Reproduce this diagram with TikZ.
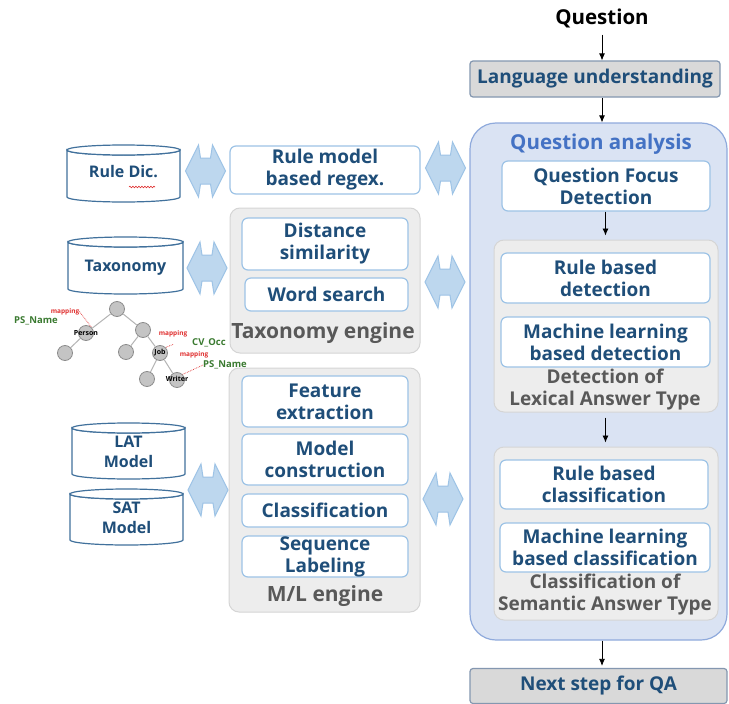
\documentclass[tikz,border=0pt]{standalone}
\usepackage{fontspec}
\setmainfont{Open Sans}
\usetikzlibrary{arrows.meta,decorations.pathmorphing}
\definecolor{dkblue}{HTML}{1F4E79}
\definecolor{ltborder}{HTML}{9DC3E6}
\definecolor{grpfill}{HTML}{EDEDED}
\definecolor{grpdraw}{HTML}{D5D5D5}
\definecolor{grptext}{HTML}{595959}
\definecolor{qafill}{HTML}{DAE3F3}
\definecolor{qadraw}{HTML}{8FAADC}
\definecolor{qatitle}{HTML}{4472C4}
\definecolor{arrfill}{HTML}{BDD7EE}
\definecolor{arrdraw}{HTML}{9DC3E6}
\definecolor{cyldraw}{HTML}{41719C}
\definecolor{stepfill}{HTML}{D9D9D9}
\definecolor{stepdraw}{HTML}{8497B0}
\definecolor{treefill}{HTML}{C4C4C4}
\definecolor{treedraw}{HTML}{8C8C8C}
\definecolor{treeedge}{HTML}{B4B4B4}
\definecolor{mapred}{HTML}{E03030}
\definecolor{mapgreen}{HTML}{3A7A30}
\newcommand\mycylinder[4]{%
  \path[cyl] (#1,#3+5) -- (#1,#4-5) arc[start angle=180,end angle=0,x radius={(#2-#1)/2},y radius=5] -- (#2,#3+5) arc[start angle=0,end angle=180,x radius={(#2-#1)/2},y radius=5] -- cycle;
  \draw[cyl] ({(#1+#2)/2},#3+5) ellipse[x radius={(#2-#1)/2},y radius=5];
}
\newcommand\dblarrow[2]{%
  \draw[dblarrowst] (#1-20,#2) -- (#1-7,#2-26) -- (#1-5,#2-13) -- (#1+5,#2-13) -- (#1+7,#2-26) -- (#1+20,#2) -- (#1+7,#2+26) -- (#1+5,#2+13) -- (#1-5,#2+13) -- (#1-7,#2+26) -- cycle;
}
\begin{document}
\begin{tikzpicture}[x=1pt,y=-1pt,
 big/.style={font=\fontsize{19}{22}\selectfont\bfseries, align=center},
 wbox/.style={big, draw=ltborder, line width=1.2pt, fill=white, rounded corners=6, text=dkblue, inner sep=0pt},
 grp/.style={draw=grpdraw, fill=grpfill, line width=1pt, rounded corners=10, inner sep=0pt},
 grplabel/.style={big, text=grptext, inner sep=0pt},
 englabel/.style={font=\fontsize{21}{24}\selectfont\bfseries, text=grptext, inner sep=0pt},
 stepbox/.style={big, draw=stepdraw, fill=stepfill, line width=1.2pt, rounded corners=3, text=dkblue, inner sep=0pt},
 flow/.style={-{Latex[length=7pt,width=6pt]}, line width=0.8pt, black},
 cyl/.style={draw=cyldraw, line width=1.2pt, fill=white},
 cyltext/.style={font=\fontsize{16}{19.5}\selectfont\bfseries, text=dkblue, align=center, inner sep=0pt},
 dblarrowst/.style={fill=arrfill, draw=arrdraw, line width=1pt},
 tnode/.style={circle, fill=treefill, draw=treedraw, line width=0.8pt, minimum size=15pt, inner sep=0pt},
 tlabel/.style={font=\fontsize{7}{8}\selectfont\bfseries, text=black, inner sep=0pt},
 maplabel/.style={font=\fontsize{6.5}{7}\selectfont\bfseries, text=mapred, inner sep=0pt},
 namelabel/.style={font=\fontsize{9.5}{10}\selectfont\bfseries, text=mapgreen, inner sep=0pt},
 mapline/.style={mapred, densely dotted, line width=0.7pt},
]
\useasboundingbox (0,0) rectangle (729,704);
\fill[white] (0,0) rectangle (729,704);

% ---------- right column ----------
\node[font=\fontsize{20.5}{22}\selectfont\bfseries, inner sep=0pt] (q) at (602,18) {Question};
\node[stepbox, minimum width=250pt, minimum height=36pt] (lu) at (595,79) {Language understanding};
\node[draw=qadraw, fill=qafill, line width=1.2pt, rounded corners=26, minimum width=257pt, minimum height=517pt, inner sep=0pt] (qa) at (598.5,381.5) {};
\node[font=\fontsize{20.5}{22}\selectfont\bfseries, text=qatitle, inner sep=0pt] (qat) at (601,144) {Question analysis};
\node[wbox, minimum width=208pt, minimum height=50pt] (qfd) at (606,186) {Question Focus\\Detection};

\node[grp, minimum width=224pt, minimum height=172pt] (g1) at (606,326) {};
\node[wbox, minimum width=209pt, minimum height=50pt] (rbd) at (605.5,278) {Rule based\\detection};
\node[wbox, minimum width=209pt, minimum height=50pt] (mlbd) at (605.5,342) {Machine learning\\based detection};
\node[grplabel] (g1l) at (605,390) {Detection of\\Lexical Answer Type};

\node[grp, minimum width=224pt, minimum height=173pt] (g2) at (606,533.5) {};
\node[wbox, minimum width=208pt, minimum height=49pt] (rbc) at (604,484.5) {Rule based\\classification};
\node[wbox, minimum width=210pt, minimum height=49pt] (mlbc) at (605,547.5) {Machine learning\\based classification};
\node[grplabel] (g2l) at (605,595) {Classification of\\Semantic Answer Type};

\node[stepbox, minimum width=257pt, minimum height=35pt] (ns) at (598.5,686) {Next step for QA};

\draw[flow, shorten <=7pt] (q) -- (q |- lu.north);
\draw[flow] (lu.south -| q) -- (q |- qa.north);
\draw[flow, shorten >=4pt] (qfd.south -| rbd) -- (rbd |- g1.north);
\draw[flow, shorten <=5pt, shorten >=4pt] (g1.south -| rbd) -- (rbd |- g2.north);
\draw[flow, shorten >=2pt] (qa.south -| q) -- (q |- ns.north);

% ---------- middle column ----------
\node[wbox, minimum width=190pt, minimum height=48pt] (rmr) at (325,170) {Rule model\\based regex.};

\node[grp, minimum width=190pt, minimum height=145pt] (te) at (325,280.5) {};
\node[wbox, minimum width=166pt, minimum height=52pt] (ds) at (325,244) {Distance\\similarity};
\node[wbox, minimum width=163pt, minimum height=33pt] (ws) at (326.5,294.5) {Word search};
\node[englabel] (tel) at (323,333) {Taxonomy engine};

\node[grp, minimum width=191pt, minimum height=244pt] (ml) at (324.5,490) {};
\node[wbox, minimum width=166pt, minimum height=51pt] (fe) at (325,401.5) {Feature\\extraction};
\node[wbox, minimum width=166pt, minimum height=51pt] (mc) at (325,459.5) {Model\\construction};
\node[wbox, minimum width=166pt, minimum height=33pt] (cl) at (325,510.5) {Classification};
\node[wbox, minimum width=166pt, minimum height=41pt] (sl) at (325,556.5) {Sequence\\Labeling};
\node[englabel] (mll) at (325,596) {M/L engine};

% ---------- double arrows ----------
\dblarrow{205.5}{171}
\dblarrow{207}{268}
\dblarrow{208}{490}
\dblarrow{445.5}{168}
\dblarrow{445}{282}
\dblarrow{443}{499}

% ---------- data stores ----------
\mycylinder{67}{180}{145}{202}
\node[cyltext] (rd) at (123.5,172) {Rule Dic.};
\draw[mapred, line width=0.6pt, decorate, decoration={snake, amplitude=0.8pt, segment length=3pt}] (129,187) -- (155,187);
\mycylinder{68}{183}{237}{294}
\node[cyltext] (tx) at (125.5,268) {Taxonomy};
\mycylinder{72}{185}{423}{479}
\node[cyltext] (lat) at (128.5,452) {LAT\\Model};
\mycylinder{70}{183}{489}{545}
\node[cyltext] (sat) at (126.5,518) {SAT\\Model};

% ---------- taxonomy tree ----------
\begin{scope}
\clip (0,290) rectangle (229.5,400);
\node[namelabel, anchor=west] (cv) at (192,343) {CV\_Occ};
\end{scope}
\node[tnode] (t0) at (117,309) {};
\node[tnode] (t1) at (86,333) {};
\node[tnode] (t2) at (143,330) {};
\node[tnode] (t3) at (65,353) {};
\node[tnode] (t4) at (126,352) {};
\node[tnode] (t5) at (160,353) {};
\node[tnode] (t6) at (147,379) {};
\node[tnode] (t7) at (177,380) {};
\draw[treeedge, line width=1pt] (t0) -- (t1);
\draw[treeedge, line width=1pt] (t0) -- (t2);
\draw[treeedge, line width=1pt] (t1) -- (t3);
\draw[treeedge, line width=1pt] (t2) -- (t4);
\draw[treeedge, line width=1pt] (t2) -- (t5);
\draw[treeedge, line width=1pt] (t5) -- (t6);
\draw[treeedge, line width=1pt] (t5) -- (t7);
\node[tlabel] at (t1) {Person};
\node[tlabel] at (t5) {Job};
\node[tlabel] at ([yshift=1.5]t7.center) {Writer};
\node[maplabel] (m1) at (65,311.5) {mapping};
\node[namelabel] (p1) at (36,320.5) {PS\_Name};
\node[maplabel] (m2) at (173,334) {mapping};
\node[maplabel] (m3) at (194,355) {mapping};
\node[namelabel] (p2) at (225,365) {PS\_Name};
\draw[mapline] (m1.east) -- (t1.north east);
\draw[mapline] ([yshift=-7]m2.south) -- (t5.north east);
\draw[mapline] (p2.west) -- (t7.north east);
\end{tikzpicture}
\end{document}
